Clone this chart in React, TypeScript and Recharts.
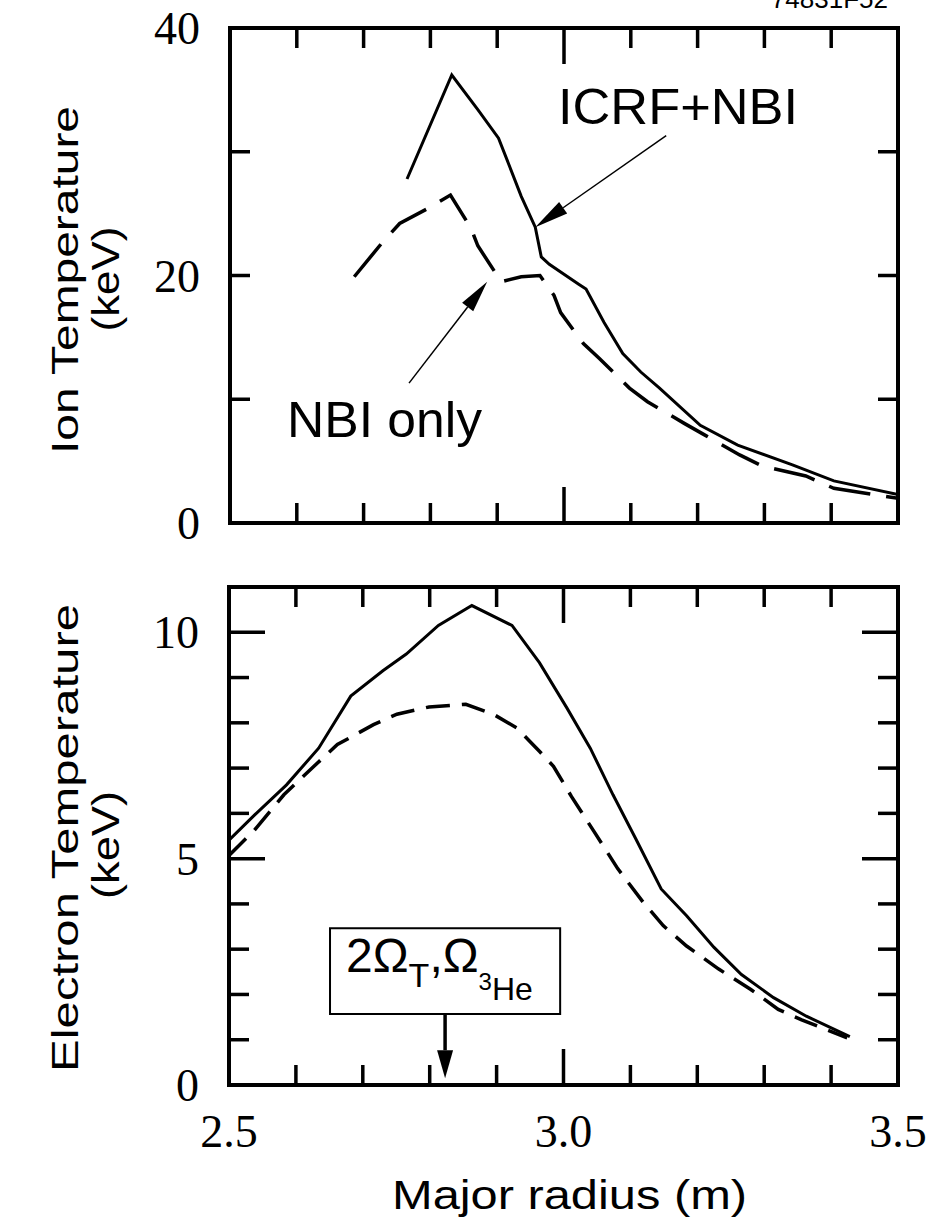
import React from 'react';
import { LineChart, Line, XAxis, YAxis, ReferenceArea, ReferenceLine, Customized } from 'recharts';

// major radius (m) vs temperature (keV)
const ionIcrfNbi = [
  { r: 2.765, t: 27.8 }, { r: 2.832, t: 36.2 }, { r: 2.871, t: 33.4 }, { r: 2.902, t: 31.1 },
  { r: 2.936, t: 26.4 }, { r: 2.957, t: 23.9 }, { r: 2.966, t: 21.5 }, { r: 2.978, t: 20.9 },
  { r: 3.022, t: 19.3 }, { r: 3.033, t: 18.9 }, { r: 3.06, t: 16.2 }, { r: 3.088, t: 13.7 },
  { r: 3.115, t: 12.2 }, { r: 3.143, t: 10.9 }, { r: 3.204, t: 7.9 }, { r: 3.26, t: 6.3 },
  { r: 3.342, t: 4.7 }, { r: 3.404, t: 3.4 }, { r: 3.5, t: 2.3 },
];

const ionNbiOnly = [
  { r: 2.686, t: 19.9 }, { r: 2.73, t: 22.8 }, { r: 2.754, t: 24.2 }, { r: 2.799, t: 25.5 },
  { r: 2.83, t: 26.5 }, { r: 2.861, t: 23.8 }, { r: 2.871, t: 22.4 }, { r: 2.906, t: 19.5 },
  { r: 2.936, t: 19.9 }, { r: 2.964, t: 20.0 }, { r: 2.985, t: 18.4 }, { r: 2.995, t: 17.0 },
  { r: 3.029, t: 14.5 }, { r: 3.053, t: 13.3 }, { r: 3.098, t: 10.9 }, { r: 3.125, t: 9.8 },
  { r: 3.18, t: 8.05 }, { r: 3.211, t: 7.1 }, { r: 3.263, t: 5.5 }, { r: 3.297, t: 4.6 },
  { r: 3.362, t: 3.8 }, { r: 3.404, t: 2.8 }, { r: 3.5, t: 2.0 },
];

const elecIcrfNbi = [
  { r: 2.5, t: 5.41 }, { r: 2.538, t: 5.96 }, { r: 2.586, t: 6.63 }, { r: 2.634, t: 7.44 },
  { r: 2.682, t: 8.59 }, { r: 2.73, t: 9.15 }, { r: 2.765, t: 9.52 }, { r: 2.813, t: 10.15 },
  { r: 2.863, t: 10.59 }, { r: 2.923, t: 10.15 }, { r: 2.964, t: 9.33 }, { r: 3.005, t: 8.33 },
  { r: 3.04, t: 7.44 }, { r: 3.074, t: 6.41 }, { r: 3.108, t: 5.44 }, { r: 3.146, t: 4.33 },
  { r: 3.184, t: 3.74 }, { r: 3.225, t: 3.04 }, { r: 3.266, t: 2.44 }, { r: 3.314, t: 1.93 },
  { r: 3.363, t: 1.52 }, { r: 3.428, t: 1.07 },
];

const elecNbiOnly = [
  { r: 2.5, t: 5.07 }, { r: 2.538, t: 5.63 }, { r: 2.582, t: 6.41 }, { r: 2.627, t: 7.04 },
  { r: 2.662, t: 7.52 }, { r: 2.716, t: 7.96 }, { r: 2.751, t: 8.19 }, { r: 2.799, t: 8.35 },
  { r: 2.854, t: 8.41 }, { r: 2.895, t: 8.19 }, { r: 2.93, t: 7.89 }, { r: 2.964, t: 7.37 },
  { r: 2.985, t: 7.04 }, { r: 3.012, t: 6.37 }, { r: 3.046, t: 5.59 }, { r: 3.081, t: 4.78 },
  { r: 3.119, t: 4.04 }, { r: 3.149, t: 3.52 }, { r: 3.184, t: 3.07 }, { r: 3.232, t: 2.56 },
  { r: 3.28, t: 2.11 }, { r: 3.321, t: 1.67 }, { r: 3.356, t: 1.44 }, { r: 3.424, t: 1.04 },
];

const radiusTicks = [2.5, 2.6, 2.7, 2.8, 2.9, 3.0, 3.1, 3.2, 3.3, 3.4, 3.5];
const radiusLabels = ['2.5', '3.0', '3.5'];
const radiusMajor = [3.0];

const ionTicks = [0, 10, 20, 30, 40];
const ionLabels = ['0', '20', '40'];

const elecTicks = [0, 1, 2, 3, 4, 5, 6, 7, 8, 9, 10];
const elecLabels = ['0', '5', '10'];
const elecMajor = [5, 10];

// annotation anchors in data units
const icrfArrow = [{ x: 3.153, y: 31.3 }, { x: 2.957, y: 23.9 }];
const nbiArrow = [{ x: 2.768, y: 11.3 }, { x: 2.885, y: 19.5 }];
const resonanceBox = { x1: 2.651, x2: 2.995, y1: 1.57, y2: 3.46 };
const resonanceArrow = [{ x: 2.823, y: 1.57 }, { x: 2.823, y: 0.15 }];

const SANS = '"Liberation Sans", Arial, sans-serif';
const SERIF = '"Liberation Serif", "Times New Roman", serif';

type Side = 'top' | 'bottom' | 'left' | 'right';

const near = (list: number[], v: number) => list.some((e) => Math.abs(e - v) < 1e-6);

const makeTick =
  (side: Side, edges: number[], majors: number[], labels: string[], fmt: (v: number) => string) =>
  (props: any) => {
    const { x, y, payload } = props;
    const v = payload.value;
    const len = near(majors, v) ? 36 : 20;
    let tl = null;
    if (!near(edges, v)) {
      if (side === 'bottom') tl = <line x1={x} y1={y} x2={x} y2={y - len} />;
      if (side === 'top') tl = <line x1={x} y1={y} x2={x} y2={y + len} />;
      if (side === 'left') tl = <line x1={x} y1={y} x2={x + len} y2={y} />;
      if (side === 'right') tl = <line x1={x} y1={y} x2={x - len} y2={y} />;
    }
    const s = fmt(v);
    let label = null;
    if (labels.includes(s)) {
      if (side === 'bottom')
        label = (
          <text x={x} y={y + 62} textAnchor="middle" fontFamily={SERIF} fontSize={46} fill="#000" stroke="none">
            {s}
          </text>
        );
      if (side === 'left')
        label = (
          <text x={x - 30} y={y + 16} textAnchor="end" fontFamily={SERIF} fontSize={46} fill="#000" stroke="none">
            {s}
          </text>
        );
    }
    return (
      <g>
        {tl && React.cloneElement(tl, { stroke: '#000', strokeWidth: 3.5 })}
        {label}
      </g>
    );
  };

const fmtR = (v: number) => v.toFixed(1);
const fmtT = (v: number) => String(v);

const arrow = (w: number, headLen: number, headHalf: number) => (p: any) => {
  const { x1, y1, x2, y2 } = p;
  const a = Math.atan2(y2 - y1, x2 - x1);
  const c = Math.cos(a);
  const s = Math.sin(a);
  const bx = x2 - headLen * c;
  const by = y2 - headLen * s;
  const pts = `${x2},${y2} ${bx - headHalf * s},${by + headHalf * c} ${bx + headHalf * s},${by - headHalf * c}`;
  return (
    <g>
      <line x1={x1} y1={y1} x2={bx} y2={by} stroke="#000" strokeWidth={w} />
      <polygon points={pts} fill="#000" />
    </g>
  );
};

const BoxLabel = (props: any) => {
  const { x, y } = props.viewBox;
  return (
    <text x={x + 16} y={y + 44} fontFamily={SANS} fontSize={48} fill="#000">
      2Ω
      <tspan fontSize={34} dy={15}>T</tspan>
      <tspan fontSize={48} dy={-15}>,Ω</tspan>
      <tspan fontSize={24} dy={18}>3</tspan>
      <tspan fontSize={32} dy={10}>He</tspan>
    </text>
  );
};

const RotLabel = ({ x, y, len, size, children }: any) => (
  <text
    transform={`translate(${x},${y}) rotate(-90)`}
    textAnchor="middle"
    fontFamily={SANS}
    fontSize={size}
    textLength={len}
    lengthAdjust="spacingAndGlyphs"
    fill="#000"
  >
    {children}
  </text>
);

const TopTexts = () => (
  <g>
    <text x={888} y={8} textAnchor="end" fontFamily={SANS} fontSize={26} fill="#000">
      74831F52
    </text>
    <RotLabel x={78} y={280} len={348} size={36}>Ion Temperature</RotLabel>
    <RotLabel x={119} y={279} len={105} size={38}>(keV)</RotLabel>
    <text x={558} y={124} fontFamily={SANS} fontSize={50} textLength={240} lengthAdjust="spacingAndGlyphs" fill="#000">
      ICRF+NBI
    </text>
    <text x={287} y={437} fontFamily={SANS} fontSize={50} textLength={195} lengthAdjust="spacingAndGlyphs" fill="#000">
      NBI only
    </text>
  </g>
);

const BottomTexts = () => (
  <g>
    <RotLabel x={78} y={278} len={468} size={36}>Electron Temperature</RotLabel>
    <RotLabel x={119} y={285} len={108} size={38}>(keV)</RotLabel>
    <text x={392} y={649} fontFamily={SANS} fontSize={40} textLength={355} lengthAdjust="spacingAndGlyphs" fill="#000">
      Major radius (m)
    </text>
  </g>
);

const radiusAxes = (labelsOnBottom: boolean) => [
  <XAxis
    key="xb"
    xAxisId="b"
    orientation="bottom"
    type="number"
    dataKey="r"
    domain={[2.5, 3.5]}
    allowDataOverflow
    ticks={radiusTicks}
    interval={0}
    height={10}
    axisLine={false}
    tickLine={false}
    tickSize={0}
    tickMargin={0}
    tick={makeTick('bottom', [2.5, 3.5], radiusMajor, labelsOnBottom ? radiusLabels : [], fmtR)}
  />,
  <XAxis
    key="xt"
    xAxisId="t"
    orientation="top"
    type="number"
    dataKey="r"
    domain={[2.5, 3.5]}
    allowDataOverflow
    ticks={radiusTicks}
    interval={0}
    height={10}
    axisLine={false}
    tickLine={false}
    tickSize={0}
    tickMargin={0}
    tick={makeTick('top', [2.5, 3.5], radiusMajor, [], fmtR)}
  />,
];

const tempAxes = (domain: number[], ticks: number[], majors: number[], labels: string[]) => [
  <YAxis
    key="yl"
    yAxisId="l"
    orientation="left"
    type="number"
    domain={domain}
    allowDataOverflow
    ticks={ticks}
    interval={0}
    width={20}
    axisLine={false}
    tickLine={false}
    tickSize={0}
    tickMargin={0}
    tick={makeTick('left', domain, majors, labels, fmtT)}
  />,
  <YAxis
    key="yr"
    yAxisId="r"
    orientation="right"
    type="number"
    domain={domain}
    allowDataOverflow
    ticks={ticks}
    interval={0}
    width={20}
    axisLine={false}
    tickLine={false}
    tickSize={0}
    tickMargin={0}
    tick={makeTick('right', domain, majors, [], fmtT)}
  />,
];

export default function App() {
  return (
    <div style={{ position: 'absolute', left: 0, top: 0, width: 937, height: 1224, background: '#fff' }}>
      <div style={{ position: 'absolute', left: 0, top: 0 }}>
        <LineChart width={937} height={560} margin={{ top: 18, right: 19, bottom: 27, left: 210 }}>
          {radiusAxes(false)}
          {tempAxes([0, 40], ionTicks, [], ionLabels)}
          <ReferenceArea x1={2.5} x2={3.5} y1={0} y2={40} xAxisId="b" yAxisId="l" fill="none" stroke="#000" strokeWidth={4} ifOverflow="visible" />
          <Line data={ionIcrfNbi} dataKey="t" xAxisId="b" yAxisId="l" type="linear" stroke="#000" strokeWidth={3} dot={false} isAnimationActive={false} />
          <Line data={ionNbiOnly} dataKey="t" xAxisId="b" yAxisId="l" type="linear" stroke="#000" strokeWidth={3.5} strokeDasharray="42 16" dot={false} isAnimationActive={false} />
          <ReferenceLine segment={icrfArrow} xAxisId="b" yAxisId="l" ifOverflow="visible" shape={arrow(1.5, 34, 7)} />
          <ReferenceLine segment={nbiArrow} xAxisId="b" yAxisId="l" ifOverflow="visible" shape={arrow(1.5, 32, 7)} />
          <Customized component={TopTexts} />
        </LineChart>
      </div>
      <div style={{ position: 'absolute', left: 0, top: 560 }}>
        <LineChart width={937} height={664} margin={{ top: 17, right: 19, bottom: 129, left: 209 }}>
          {radiusAxes(true)}
          {tempAxes([0, 11], elecTicks, elecMajor, elecLabels)}
          <ReferenceArea x1={2.5} x2={3.5} y1={0} y2={11} xAxisId="b" yAxisId="l" fill="none" stroke="#000" strokeWidth={4} ifOverflow="visible" />
          <Line data={elecIcrfNbi} dataKey="t" xAxisId="b" yAxisId="l" type="linear" stroke="#000" strokeWidth={3} dot={false} isAnimationActive={false} />
          <Line data={elecNbiOnly} dataKey="t" xAxisId="b" yAxisId="l" type="linear" stroke="#000" strokeWidth={3.5} strokeDasharray="24 12" dot={false} isAnimationActive={false} />
          <ReferenceArea
            x1={resonanceBox.x1}
            x2={resonanceBox.x2}
            y1={resonanceBox.y1}
            y2={resonanceBox.y2}
            xAxisId="b"
            yAxisId="l"
            fill="#fff"
            fillOpacity={1}
            stroke="#000"
            strokeWidth={2}
            label={BoxLabel}
          />
          <ReferenceLine segment={resonanceArrow} xAxisId="b" yAxisId="l" ifOverflow="visible" shape={arrow(3.5, 28, 8)} />
          <Customized component={BottomTexts} />
        </LineChart>
      </div>
    </div>
  );
}
